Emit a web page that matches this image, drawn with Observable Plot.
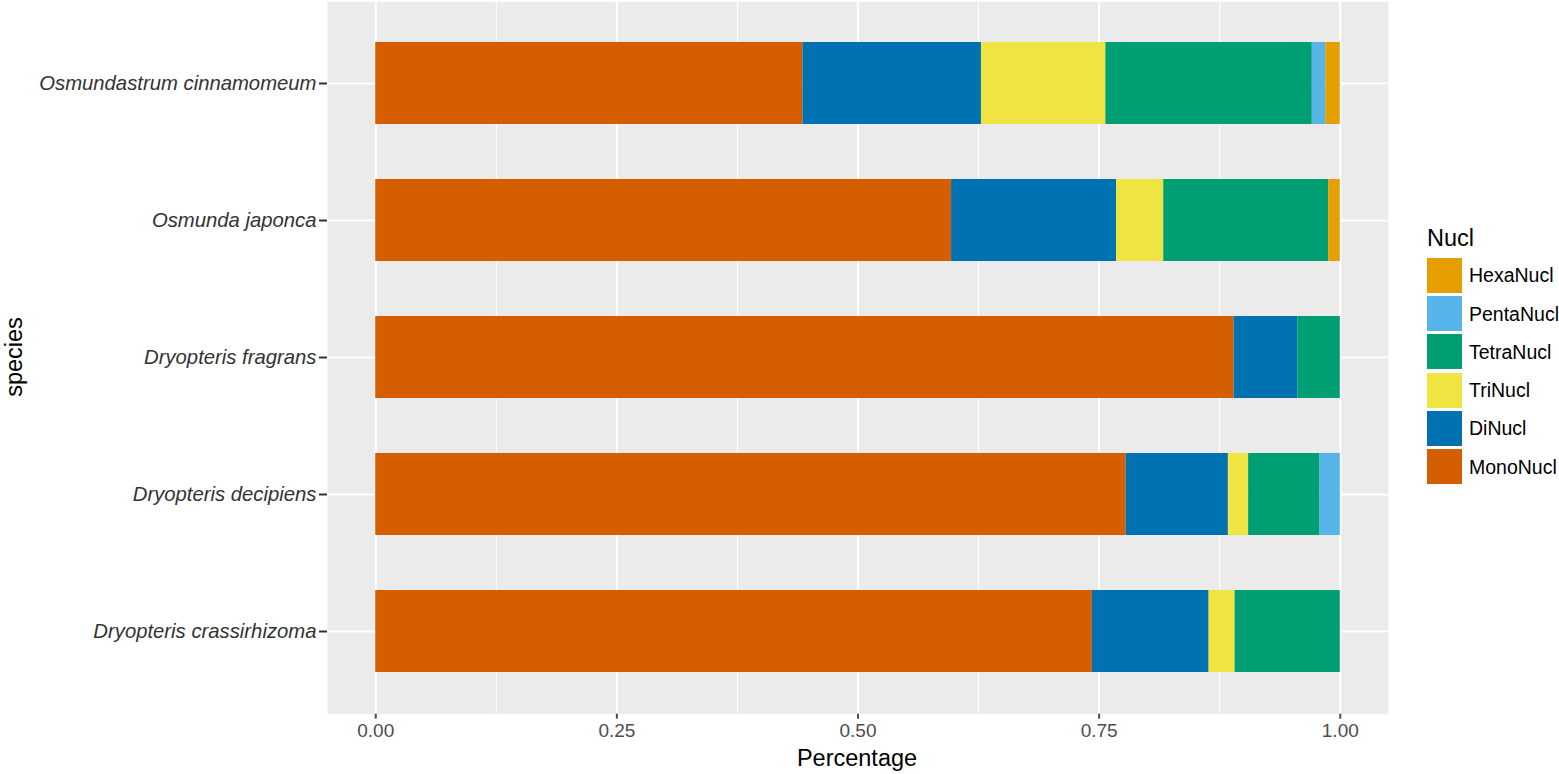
<!DOCTYPE html>
<html><head><meta charset="utf-8">
<script src="https://cdn.jsdelivr.net/npm/d3@7"></script>
<script src="https://cdn.jsdelivr.net/npm/@observablehq/plot@0.6"></script>
<style>
body{margin:0;background:#fff;font-family:"Liberation Sans",Arial,sans-serif;}
#wrap{position:relative;width:1559px;height:774px;overflow:hidden;}
#wrap svg{position:absolute;left:0;top:0;}
.lab{position:absolute;color:#000;white-space:nowrap;font-family:"Liberation Sans",Arial,sans-serif;}
svg g[aria-label="y-axis tick label"] text{font-style:italic;}
</style></head><body><div id="wrap"></div>
<script>
const species = ["Osmundastrum cinnamomeum","Osmunda japonca","Dryopteris fragrans","Dryopteris decipiens","Dryopteris crassirhizoma"];
const nucl = ["MonoNucl","DiNucl","TriNucl","TetraNucl","PentaNucl","HexaNucl"];
const legendOrder = ["HexaNucl","PentaNucl","TetraNucl","TriNucl","DiNucl","MonoNucl"];
const colors = ["#D55E00","#0072B2","#F0E442","#009E73","#56B4E9","#E69F00"];
const mono  = [0.443,0.597,0.890,0.778,0.743];
const di    = [0.185,0.171,0.066,0.106,0.121];
const tri   = [0.129,0.049,0.000,0.021,0.027];
const tetra = [0.214,0.171,0.044,0.074,0.109];
const penta = [0.014,0.000,0.000,0.021,0.000];
const hexa  = [0.015,0.012,0.000,0.000,0.000];
const xTicks = [0,0.25,0.5,0.75,1];
const xMinor = [0.125,0.375,0.625,0.875];

const series = [mono,di,tri,tetra,penta,hexa];
const rows = [];
species.forEach((s,i)=>{
  nucl.forEach((n,j)=>{
    if (series[j][i] > 0) rows.push({species:s, nucl:n, value:series[j][i]});
  });
});

const chart = Plot.plot({
  width:1559, height:774,
  marginLeft:327, marginRight:171, marginTop:1.3, marginBottom:60.3,
  style:{fontFamily:"Liberation Sans, Arial, sans-serif", background:"transparent", overflow:"visible"},
  x:{domain:[-0.05,1.05]},
  y:{domain:species, paddingInner:0.4, paddingOuter:0.3, align:0.5},
  color:{domain:nucl, range:colors},
  marks:[
    Plot.frame({fill:"#EBEBEB", stroke:"none"}),
    Plot.ruleX(xMinor,{stroke:"#fff", strokeWidth:1}),
    Plot.ruleX(xTicks,{stroke:"#fff", strokeWidth:2}),
    Plot.ruleY(species,{stroke:"#fff", strokeWidth:2}),
    Plot.barX(rows, Plot.stackX({x:"value", y:"species", fill:"nucl", order:nucl})),
    Plot.axisX({ticks:xTicks, tickFormat:d3.format(".2f"), tickSize:5, tickPadding:4, fontSize:19, label:null, color:"#4D4D4D", strokeWidth:2}),
    Plot.axisY({tickSize:8, tickPadding:3, fontSize:20.3, label:null, color:"#333333", strokeWidth:2, fontStyle:"italic"})
  ]
});
const wrap = document.getElementById("wrap");
wrap.appendChild(chart);

function addLabel(text, css){
  const d = document.createElement("div");
  d.className = "lab";
  d.textContent = text;
  Object.assign(d.style, css);
  wrap.appendChild(d);
  return d;
}
// axis titles
addLabel("Percentage",{left:"857px", top:"745px", fontSize:"23.5px", transform:"translateX(-50%)", lineHeight:"27px"});
addLabel("species",{left:"14px", top:"357px", fontSize:"23.5px", lineHeight:"27px", transform:"translate(-50%,-50%) rotate(-90deg)"});
// legend
addLabel("Nucl",{left:"1427px", top:"225px", fontSize:"23.5px", lineHeight:"27px"});
legendOrder.forEach((n,k)=>{
  const y = 257.7 + k*38.3;
  const key = document.createElement("div");
  Object.assign(key.style,{position:"absolute", left:"1427px", top:y+"px", width:"35px", height:"35px", background:colors[nucl.indexOf(n)]});
  wrap.appendChild(key);
  addLabel(n,{left:"1469px", top:(y+17.5-11)+"px", fontSize:"19.5px", lineHeight:"22px"});
});
</script>
</body></html>
